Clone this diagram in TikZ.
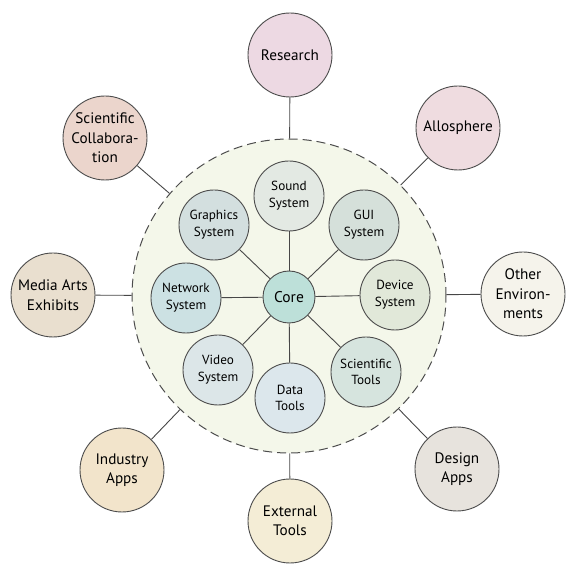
\documentclass[tikz,border=0pt]{standalone}
\usepackage{fontspec}
\setmainfont{PT Sans}
\begin{document}
\begin{tikzpicture}[x=1pt,y=-1pt,
  every node/.style={align=center},
  bubble/.style={circle, draw=black!70, line width=0.9pt, inner sep=0pt},
  outerbox/.style={bubble, minimum size=84pt, font=\fontsize{15.2}{19.5}\selectfont},
  innerbox/.style={bubble, minimum size=70pt, font=\fontsize{13.2}{16.7}\selectfont},
  link/.style={draw=black!72, line width=0.9pt}]
\useasboundingbox (0,0) rectangle (566,564);

\definecolor{ringfill}{HTML}{F4F7EA}
\definecolor{corefill}{HTML}{BDE0D9}

% dashed boundary of the framework
\node[circle, draw=black!70, line width=1pt, dash pattern=on 9pt off 5pt,
      fill=ringfill, minimum size=314pt, inner sep=0pt] (ring) at (289,296) {};

% core and its subsystems
\node[bubble, fill=corefill, minimum size=52pt, font=\fontsize{15.5}{17}\selectfont] (core) at (289,297) {Core};
\node[innerbox, fill={rgb,255:red,227;green,233;blue,227}] (sound) at (289,196) {Sound\\System};
\node[innerbox, fill={rgb,255:red,213;green,224;blue,218}] (gui) at (364,225) {GUI\\System};
\node[innerbox, fill={rgb,255:red,225;green,232;blue,217}] (device) at (395,295) {Device\\System};
\node[innerbox, fill={rgb,255:red,214;green,228;blue,222}] (scitools) at (366,372) {Scientific\\Tools};
\node[innerbox, fill={rgb,255:red,220;green,231;blue,236}] (data) at (290,398) {Data\\Tools};
\node[innerbox, fill={rgb,255:red,220;green,230;blue,232}] (video) at (218,370) {Video\\System};
\node[innerbox, fill={rgb,255:red,204;green,225;blue,227}] (network) at (186,298) {Network\\System};
\node[innerbox, fill={rgb,255:red,211;green,223;blue,223}] (graphics) at (214,225) {Graphics\\System};

\foreach \n in {sound,gui,device,scitools,data,video,network,graphics}
  \draw[link] (core) -- (\n);

% surrounding application areas
\node[outerbox, fill={rgb,255:red,237;green,217;blue,227}] (research) at (290,55) {Research};
\node[outerbox, fill={rgb,255:red,239;green,220;blue,224}] (allo) at (458,128) {Allosphere};
\node[outerbox, fill={rgb,255:red,245;green,243;blue,235}] (other) at (523,294) {Other\\Environ-\\ments};
\node[outerbox, fill={rgb,255:red,231;green,227;blue,221}] (design) at (457,469) {Design\\Apps};
\node[outerbox, fill={rgb,255:red,244;green,237;blue,214}] (external) at (290,521) {External\\Tools};
\node[outerbox, fill={rgb,255:red,242;green,228;blue,203}] (industry) at (122,470) {Industry\\Apps};
\node[outerbox, fill={rgb,255:red,233;green,223;blue,207}] (media) at (53,295) {Media Arts\\Exhibits};
\node[outerbox, fill={rgb,255:red,235;green,213;blue,204}] (scicollab) at (105,138) {Scientific\\Collabora-\\tion};

\foreach \n in {research,allo,other,design,external,industry,media,scicollab}
  \draw[link] (\n) -- (ring);
\end{tikzpicture}
\end{document}
